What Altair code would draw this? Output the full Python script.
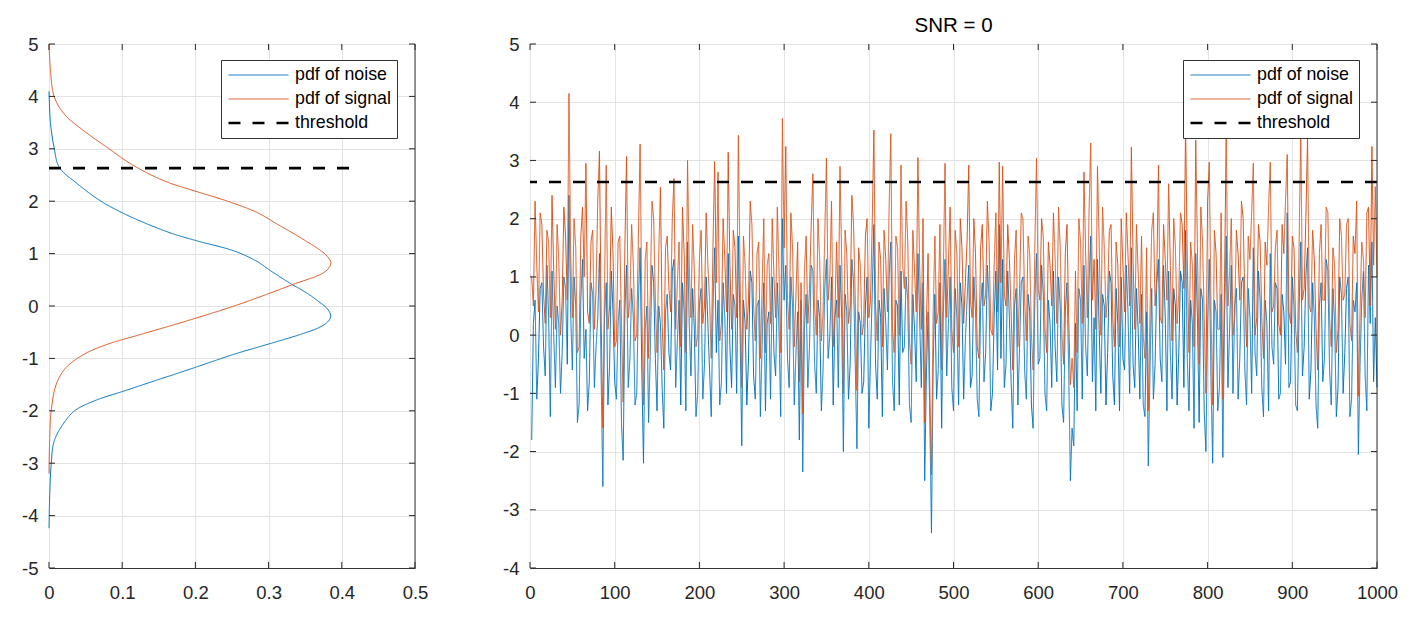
import altair as alt
import pandas as pd

FONT = "Liberation Sans"
BLUE = "#0072BD"
ORANGE = "#D95319"
TICK = "#262626"

# ---------------- data ----------------
series_names = ["pdf of noise", "pdf of signal", "threshold"]
series_colors = [BLUE, ORANGE, "#000000"]
series_dash = [[1, 0], [1, 0], [12, 12]]
series_width = [1, 1, 2.7]

threshold = 2.63
threshold_pdf_end = 0.42

noise_pdf_y = [-4.24, -3.6, -3.02, -2.58, -2.26, -2.0, -1.81, -1.62, -1.43, -1.18, -0.92,
               -0.73, -0.54, -0.41, -0.3, -0.19, -0.05, 0.1, 0.25, 0.42, 0.67, 0.86, 1.05,
               1.24, 1.37, 1.56, 1.78, 2.0, 2.33, 2.65, 3.02, 3.5, 4.1]
noise_pdf_x = [0.0, 0.001, 0.003, 0.007, 0.019, 0.035, 0.062, 0.103, 0.144, 0.198, 0.253,
               0.299, 0.344, 0.369, 0.381, 0.385, 0.380, 0.367, 0.352, 0.331, 0.303, 0.283, 0.253,
               0.203, 0.171, 0.135, 0.100, 0.071, 0.039, 0.014, 0.007, 0.002, 0.0]

signal_pdf_y = [-3.2, -2.5, -2.0, -1.49, -1.18, -0.92, -0.73, -0.54, -0.29, 0.0, 0.23, 0.42,
                0.61, 0.72, 0.83, 0.95, 1.05, 1.3, 1.56, 1.78, 2.0, 2.2, 2.39, 2.71, 3.02,
                3.34, 3.66, 4.0, 4.5, 5.0]
signal_pdf_x = [0.0, 0.001, 0.003, 0.010, 0.023, 0.048, 0.080, 0.126, 0.187, 0.253, 0.299, 0.335,
                0.372, 0.382, 0.385, 0.380, 0.372, 0.344, 0.312, 0.285, 0.244, 0.198, 0.157, 0.112, 0.080,
                0.048, 0.021, 0.007, 0.002, 0.0]

sample_index = list(range(2, 1001, 2))

noise_samples = [
    -1.8, 0.2, 0.6, -1.1, -0.4, 0.8, 0.9, -0.2, -0.7, 1.2, 0.3, -1.4, 1.1, 0.0, -0.9, 0.5, 0.2, -1.0, -0.3, 1.0,
    0.8, -0.5, 2.4, 0.4, -0.6, 1.0, 0.5, -1.5, -1.2, 0.6, 1.3, -0.4, 0.1, -1.3, -0.8, 0.9, 0.7, -0.9, -0.2, 0.3,
    1.4, -0.7, -2.6, 0.3, 0.9, -1.2, -0.5, 1.1, 0.4, -0.8, -1.1, 0.2, 0.6, -1.5, -2.15, 0.4, 1.2, -0.9, -0.4, 0.8,
    0.3, -1.2, -1.0, 0.6, 1.5, -0.6, -2.2, 0.1, 0.5, -1.5, -0.3, 1.2, 0.9, -0.4, -1.3, 0.5, 0.2, -0.9, -1.6, 0.4,
    0.7, -0.3, -0.6, 1.1, 1.3, -0.9, -0.1, 0.6, -1.2, 0.9, 0.4, -1.3, 1.6, 0.2, -0.7, 0.8, 0.1, -1.4, -1.0, 0.5,
    0.8, -1.1, -0.5, 1.0, 0.2, -0.6, -1.4, 0.4, 1.5, -0.3, 0.6, -1.2, -0.8, 0.9, 0.3, -1.0, 1.4, -0.2, -0.9, 0.7,
    0.5, -1.0, 1.7, 0.1, -1.9, 0.6, 0.2, -1.2, -0.4, 1.1, 0.9, -0.7, -1.1, 0.5, 0.6, -1.4, -0.2, 0.9, -1.3, 0.2,
    0.4, -1.1, 1.0, -0.3, -0.7, 0.9, 0.1, -1.4, 2.0, 0.6, 1.2, -0.4, -0.9, 1.0, 0.5, -1.2, -0.3, 0.4, -1.8, 0.6,
    -2.35, 0.1, 0.7, -0.9, -0.2, 1.2, 1.1, -0.5, -1.0, 0.6, 0.3, -1.3, -0.6, 0.8, 1.3, -0.4, 0.0, 1.0, -1.2, 0.3,
    0.6, -0.9, 1.2, 0.3, -2.0, 0.7, 0.4, -1.1, -0.5, 1.3, 0.9, -0.5, -1.95, 0.4, 0.2, -1.0, -0.8, 0.5, 1.0, -1.6,
    -0.4, 0.7, 1.9, -0.5, -1.1, 0.6, 0.3, -1.4, 0.8, 0.2, -0.6, 1.0, 1.6, -0.8, -1.3, 0.6, 0.5, -1.2, 1.1, -0.3,
    -0.2, 1.0, 0.6, -1.2, -1.5, 0.7, 0.1, -0.8, 1.4, 0.3, -0.9, 0.9, -2.5, -0.7, 0.4, -1.4, -3.4, -0.5, 0.7, -1.1,
    -0.6, 0.9, -1.6, 0.4, 1.3, -0.7, 0.2, 1.0, -0.9, -1.3, 0.8, 0.3, -1.2, 0.9, 0.5, -1.1, -0.1, 0.6, 1.2, -0.9,
    -0.7, 1.0, 0.4, -1.1, -1.4, 0.5, 0.9, -0.8, -0.3, 1.2, 0.6, -1.3, -1.0, 0.3, 1.1, -0.6, 1.9, -0.4, 1.3, -0.9,
    -0.5, 1.1, 0.3, -0.8, -1.6, 0.5, 0.8, -1.2, -0.2, 0.9, 1.0, -0.6, -1.1, 0.7, 0.4, -1.2, -1.6, 0.6, 1.4, -0.5,
    -0.4, 1.2, 0.7, -1.0, -1.3, 0.6, 0.2, -0.9, 1.1, -0.2, -0.8, 1.0, 0.5, -1.2, -1.5, 0.4, 0.9, -0.6, -2.5, -1.6,
    -1.9, 0.2, -1.3, 0.8, 0.6, -1.1, 1.2, -0.2, -0.7, 0.9, 1.7, -0.8, 0.3, -1.3, 1.3, 0.1, -1.0, 0.7, 0.5, -1.2,
    -0.3, 1.1, 0.9, -0.7, -1.2, 0.8, 0.2, -1.3, 1.0, -0.4, -0.6, 1.2, 0.4, -1.0, 1.5, -0.5, -0.9, 0.8, 0.1, -1.1,
    0.7, -1.2, -1.4, 0.4, -2.25, -0.6, 0.8, -1.1, -0.5, 0.9, 1.3, -0.4, -0.8, 1.2, 0.3, -1.3, 1.1, -0.3, -1.1, 0.8,
    0.5, -1.2, -0.3, 1.1, 0.9, -0.9, 1.8, -0.4, -1.3, 0.6, 0.2, -1.6, 1.4, 0.3, -1.5, 0.8, 0.6, -1.3, -2.0, 0.2,
    1.3, -0.8, -2.2, 0.6, 0.4, -1.3, -0.9, 0.7, -2.1, 0.3, 1.7, -0.9, 0.1, 1.2, -1.0, 0.5, 0.8, -1.1, -0.4, 0.9,
    1.0, -0.6, -1.2, 0.8, 0.3, -1.0, 1.5, -0.3, -0.7, 1.1, 0.6, -0.9, -1.4, 0.6, 0.2, -1.3, 1.4, -0.2, -0.5, 0.9,
    0.8, -1.1, -1.0, 0.7, 0.4, -0.5, 2.1, -0.9, -0.8, 1.0, 0.5, -1.2, -1.3, 0.4, 1.6, -0.7, -0.2, 1.0, 1.5, -1.1,
    -0.6, 0.9, 0.3, -1.2, -1.6, 0.5, 0.9, -0.8, -0.4, 1.3, 1.1, -0.6, -1.2, 0.8, 0.2, -1.4, -0.9, 1.0, 0.7, -1.0,
    -0.3, 0.8, 1.0, -1.4, -1.1, 0.6, 0.4, 0.9, -2.05, -0.5, 0.6, 1.1, -0.7, -1.3, 1.2, 0.2, 1.6, -0.8, 0.3, -0.9,
]

signal_samples = [
    1.0, 0.5, 2.3, 1.2, 0.4, 2.1, 1.9, 0.7, 0.2, 1.8, 1.6, 0.3, 2.4, 1.1, 0.1, 1.9, 1.3, 0.0, 0.6, 2.2,
    1.7, 0.6, 4.15, 1.4, 0.3, 2.0, 1.5, -0.3, -0.2, 1.7, 2.2, 1.0, 2.95, 0.4, 0.2, 1.6, 1.8, 0.1, 0.8, 2.3,
    3.16, 0.3, -1.6, 0.9, 2.92, 0.1, 0.5, 2.2, 1.4, -0.2, -0.1, 1.6, 1.7, 0.2, -1.15, 1.5, 3.07, 0.3, 0.6, 1.9,
    1.2, -0.1, 0.0, 1.7, 3.28, 0.5, -1.2, 1.3, 1.6, -0.4, 0.7, 2.3, 2.0, 0.6, -0.3, 1.4, 2.54, 0.2, -0.6, 1.5,
    1.7, 0.8, 0.4, 2.0, 2.69, 0.1, 0.9, 1.6, -0.2, 2.2, 1.4, -0.3, 3.0, 1.2, 0.3, 1.9, 1.1, -0.2, 0.0, 1.3,
    1.8, 0.2, 0.5, 2.1, 1.2, 0.6, -0.4, 1.5, 2.98, 0.9, 2.8, -0.1, 0.2, 2.0, 1.3, 0.4, 3.14, 1.2, 0.1, 1.8,
    1.5, 0.3, 3.43, 1.1, -0.9, 1.7, 1.2, 0.1, 0.6, 2.3, 1.9, 0.5, -0.1, 1.4, 1.6, -0.4, 0.8, 2.0, -0.3, 1.2,
    1.4, 0.2, 2.0, 1.0, 0.3, 2.2, 1.1, -0.3, 3.72, 1.5, 3.24, 0.6, 0.1, 2.1, 1.5, -0.2, 0.7, 1.6, -0.8, 0.9,
    -1.35, 1.1, 1.7, 0.2, 0.8, 1.9, 2.77, 0.5, 0.0, 2.0, 1.3, -0.1, 0.4, 1.7, 3.04, 0.6, 1.0, 2.3, -0.2, 0.4,
    1.6, 0.3, 2.9, 1.3, -1.0, 1.8, 1.4, 0.2, 0.5, 2.4, 1.9, 0.6, -0.95, 1.5, 1.2, 0.0, 0.2, 1.7, 2.0, 0.3,
    0.6, 1.9, 3.52, 0.5, -0.1, 1.6, 1.3, -0.2, 1.8, 1.3, 0.4, 2.2, 3.46, 0.1, -0.3, 1.7, 1.5, 0.0, 2.92, 1.2,
    0.8, 2.3, 1.6, -0.1, -0.5, 1.8, 1.1, 0.4, 3.05, 1.2, 0.1, 2.0, -1.5, 0.2, 1.4, -0.9, -2.4, 0.4, 1.7, 0.2,
    0.4, 1.9, -0.6, 1.1, 2.95, 0.3, 1.2, 2.2, 0.1, -0.3, 1.8, 1.4, -0.2, 2.0, 1.5, 0.2, 0.9, 1.6, 2.92, 0.6,
    0.3, 2.0, 1.4, -0.2, -0.4, 1.5, 1.9, 0.5, 0.7, 2.3, 1.6, 0.1, 0.0, 1.2, 2.1, 0.4, 2.97, 0.9, 2.9, 0.7,
    0.5, 1.9, 1.3, 0.4, -0.6, 1.3, 1.8, -0.2, 0.8, 2.1, 2.0, 0.6, -0.1, 1.7, 1.4, 0.0, -0.6, 1.5, 3.04, 0.8,
    0.6, 2.0, 1.7, 0.1, -0.3, 1.6, 1.2, 0.5, 2.1, 1.3, 0.2, 2.2, 1.5, 0.0, -0.5, 1.4, 1.9, 0.3, -0.85, -0.4,
    -0.9, 1.1, -0.3, 2.0, 1.6, 0.2, 2.8, 1.4, 0.3, 2.1, 3.3, 0.6, 1.3, 0.1, 2.9, 1.6, 0.0, 2.2, 1.5, 0.3,
    0.7, 1.8, 1.9, 0.3, -0.2, 1.6, 1.2, -0.2, 2.0, 1.2, 0.4, 2.1, 1.4, 0.5, 3.23, 1.3, 0.1, 1.9, 1.1, 0.2,
    1.7, 0.0, -0.4, 1.5, -1.3, 0.4, 1.8, 2.1, 0.5, 1.0, 2.92, 0.3, 0.2, 1.9, 1.3, 0.6, 2.6, 1.2, -0.1, 2.0,
    1.5, 0.2, 0.7, 2.1, 1.9, 0.8, 3.6, 1.3, -0.3, 1.6, 1.2, -0.2, 3.35, 1.5, -0.5, 2.2, 1.6, 0.3, -1.0, 2.3,
    2.97, 0.4, -1.2, 1.8, 1.4, 0.1, 0.1, 2.1, -1.1, 0.9, 3.57, 0.5, 1.1, 2.0, 0.0, 0.3, 1.8, 1.4, 0.6, 2.3,
    2.0, 0.6, -0.2, 1.7, 1.3, 2.1, 2.95, 0.0, 0.3, 1.9, 1.6, 0.3, -0.4, 1.6, 1.2, 2.2, 2.97, 0.4, 0.5, 1.5,
    1.8, 0.2, 0.0, 1.9, 1.4, 2.3, 3.1, 0.4, 0.2, 1.7, 1.5, 0.1, -0.3, 1.5, 3.55, 0.6, 0.8, 2.0, 3.4, 0.5,
    0.4, 1.8, 1.3, 0.1, -0.6, 1.4, 1.9, 0.6, 0.6, 2.2, 2.1, 0.3, -0.2, 1.5, 1.2, -0.3, 0.1, 2.0, 1.7, 0.6,
    0.7, 1.9, 2.0, 0.2, -0.1, 1.7, 1.4, 2.3, -1.05, 0.4, 1.6, 1.3, 0.3, 2.1, 2.2, 0.5, 3.24, 1.2, 2.55, 1.0,
]

left_x_ticks = [0, 0.1, 0.2, 0.3, 0.4, 0.5]
left_y_ticks = [-5, -4, -3, -2, -1, 0, 1, 2, 3, 4, 5]
right_x_ticks = [0, 100, 200, 300, 400, 500, 600, 700, 800, 900, 1000]
right_y_ticks = [-4, -3, -2, -1, 0, 1, 2, 3, 4, 5]

# ---------------- layout ----------------
W_L, W_R, H = 366, 847, 524
TICK_LEN = 6
AXIS_FS = 18.5
LEGEND_FS = 17.8
TITLE_FS = 20.5


def series_channels(legend_x):
    leg = alt.Legend(
        orient="none", legendX=legend_x, legendY=16, title=None,
        symbolType="stroke", symbolSize=3600, clipHeight=18,
        rowPadding=6, padding=6, labelOffset=5,
        labelFontSize=LEGEND_FS, labelFont=FONT, labelColor="#000000",
        fillColor="white", strokeColor="#333333", cornerRadius=0,
    )
    color = alt.Color("series:N", scale=alt.Scale(domain=series_names, range=series_colors), legend=leg)
    dash = alt.StrokeDash("series:N", scale=alt.Scale(domain=series_names, range=series_dash), legend=leg)
    width = alt.StrokeWidth("series:N", scale=alt.Scale(domain=series_names, range=series_width, type="ordinal"), legend=leg)
    return color, dash, width


def make_axis(values, orient):
    if orient == "x":
        return alt.Axis(values=values, labelExpr="'' + datum.value", title=None, grid=True,
                        tickSize=0, labelPadding=15, domain=True, domainColor="#333333",
                        labelFontSize=AXIS_FS, labelFlush=False, labelOverlap=False)
    return alt.Axis(values=values, labelExpr="'' + datum.value", title=None, grid=True,
                    tickSize=0, labelPadding=11, domain=False, labelFontSize=AXIS_FS,
                    labelFlush=False, labelOverlap=False)


def frame_layers(xticks, yticks, xs, ys, xax, yax, W):
    dx = pd.DataFrame({"v": xticks})
    dy = pd.DataFrame({"v": yticks})
    bx = alt.Chart(dx).mark_rule(color=TICK, strokeWidth=1)
    by = alt.Chart(dy).mark_rule(color=TICK, strokeWidth=1)
    xe = alt.X("v:Q", scale=xs, axis=xax)
    ye = alt.Y("v:Q", scale=ys, axis=yax)
    return [
        bx.encode(x=xe, y=alt.value(H - TICK_LEN), y2=alt.value(H)),
        bx.encode(x=xe, y=alt.value(0), y2=alt.value(TICK_LEN)),
        by.encode(y=ye, x=alt.value(0), x2=alt.value(TICK_LEN)),
        by.encode(y=ye, x=alt.value(W - TICK_LEN), x2=alt.value(W)),
        alt.Chart(pd.DataFrame({"v": [0]})).mark_rule(color="#333333", strokeWidth=1).encode(
            x=alt.value(W), y=alt.value(0), y2=alt.value(H)),
    ]


# ---------------- left panel ----------------
xs_l = alt.Scale(domain=[0, 0.5], nice=False, zero=False)
ys_l = alt.Scale(domain=[-5, 5], nice=False, zero=False)
xax_l = make_axis(left_x_ticks, "x")
yax_l = make_axis(left_y_ticks, "y")
col_l, dash_l, wid_l = series_channels(172)

df_npdf = pd.DataFrame({"x": noise_pdf_x, "y": noise_pdf_y, "k": range(len(noise_pdf_y)),
                        "series": "pdf of noise"})
df_spdf = pd.DataFrame({"x": signal_pdf_x, "y": signal_pdf_y, "k": range(len(signal_pdf_y)),
                        "series": "pdf of signal"})
df_thr_l = pd.DataFrame({"x": [0], "x2": [threshold_pdf_end], "y": [threshold], "series": ["threshold"]})

noise_pdf_line = alt.Chart(df_npdf).mark_line(interpolate="catmull-rom").encode(
    x=alt.X("x:Q", scale=xs_l, axis=xax_l),
    y=alt.Y("y:Q", scale=ys_l, axis=yax_l),
    order=alt.Order("k:Q"),
    color=col_l, strokeDash=dash_l, strokeWidth=wid_l,
)
signal_pdf_line = alt.Chart(df_spdf).mark_line(interpolate="catmull-rom").encode(
    x=alt.X("x:Q", scale=xs_l, axis=xax_l),
    y=alt.Y("y:Q", scale=ys_l, axis=yax_l),
    order=alt.Order("k:Q"),
    color=col_l, strokeDash=dash_l, strokeWidth=wid_l,
)
thr_l = alt.Chart(df_thr_l).mark_rule().encode(
    x=alt.X("x:Q", scale=xs_l, axis=xax_l), x2="x2:Q",
    y=alt.Y("y:Q", scale=ys_l, axis=yax_l),
    color=col_l, strokeDash=dash_l, strokeWidth=wid_l,
)

left = alt.layer(
    noise_pdf_line, signal_pdf_line, thr_l,
    *frame_layers(left_x_ticks, left_y_ticks, xs_l, ys_l, xax_l, yax_l, W_L)
).properties(width=W_L, height=H, title=alt.TitleParams(" "))

# ---------------- right panel ----------------
xs_r = alt.Scale(domain=[0, 1000], nice=False, zero=False)
ys_r = alt.Scale(domain=[-4, 5], nice=False, zero=False)
xax_r = make_axis(right_x_ticks, "x")
yax_r = make_axis(right_y_ticks, "y")
col_r, dash_r, wid_r = series_channels(653)

df_noise = pd.DataFrame({"t": sample_index, "v": noise_samples, "series": "pdf of noise"})
df_signal = pd.DataFrame({"t": sample_index, "v": signal_samples, "series": "pdf of signal"})
df_thr_r = pd.DataFrame({"v": [threshold], "series": ["threshold"]})

noise_line = alt.Chart(df_noise).mark_line().encode(
    x=alt.X("t:Q", scale=xs_r, axis=xax_r),
    y=alt.Y("v:Q", scale=ys_r, axis=yax_r),
    color=col_r, strokeDash=dash_r, strokeWidth=wid_r,
)
signal_line = alt.Chart(df_signal).mark_line().encode(
    x=alt.X("t:Q", scale=xs_r, axis=xax_r),
    y=alt.Y("v:Q", scale=ys_r, axis=yax_r),
    color=col_r, strokeDash=dash_r, strokeWidth=wid_r,
)
thr_r = alt.Chart(df_thr_r).mark_rule().encode(
    y=alt.Y("v:Q", scale=ys_r, axis=yax_r),
    color=col_r, strokeDash=dash_r, strokeWidth=wid_r,
)

right = alt.layer(
    noise_line, signal_line, thr_r,
    *frame_layers(right_x_ticks, right_y_ticks, xs_r, ys_r, xax_r, yax_r, W_R)
).properties(width=W_R, height=H, title=alt.TitleParams("SNR = 0"))

chart = alt.hconcat(left, right, spacing=60).resolve_scale(
    color="independent", strokeDash="independent", strokeWidth="independent"
).resolve_legend(
    color="independent", strokeDash="independent", strokeWidth="independent"
).properties(
    padding={"left": 0, "top": 7, "right": 10, "bottom": 5}
).configure(
    font=FONT
).configure_view(
    stroke="#8a8a8a", strokeWidth=1
).configure_axis(
    labelFont=FONT, labelFontSize=AXIS_FS, labelColor="#262626",
    gridColor="#e3e3e3", gridWidth=1, minExtent=40, maxExtent=40,
).configure_title(
    font=FONT, fontSize=TITLE_FS, fontWeight="normal", color="#000000", offset=-1,
    anchor="middle", frame="group"
)

chart.save("out.html", embed_options={"renderer": "svg", "actions": False})
